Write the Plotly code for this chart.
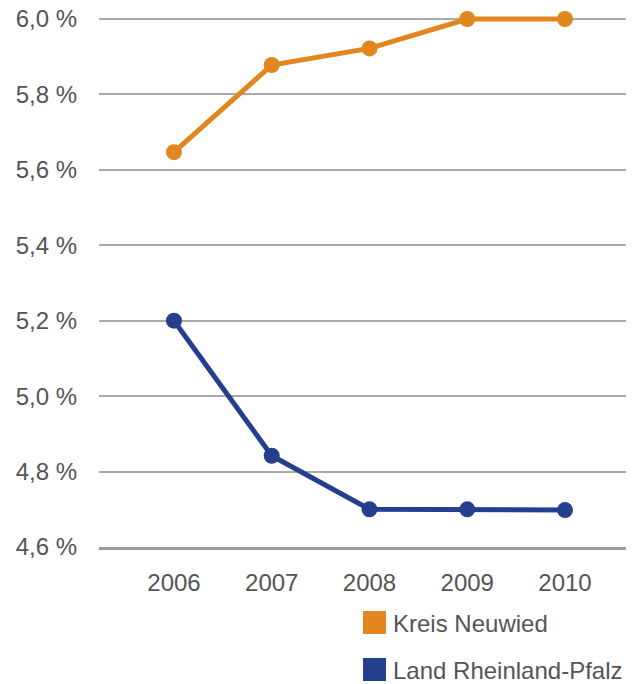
import plotly.graph_objects as go

years = [2006, 2007, 2008, 2009, 2010]
kreis_neuwied = [5.647, 5.878, 5.922, 6.0, 6.0]
land_rlp = [5.2, 4.842, 4.70, 4.70, 4.698]
series_names = ["Kreis Neuwied", "Land Rheinland-Pfalz"]
series_colors = ["#E2861F", "#243F8E"]
y_ticks = [4.6, 4.8, 5.0, 5.2, 5.4, 5.6, 5.8, 6.0]
y_tick_labels = [f"{v:.1f}".replace(".", ",") + " %" for v in y_ticks]

W, H = 632, 684
L, R, T, B = 99, 6, 10, 137
PX_PER_UNIT = 528 / 1.4
Y_MAX = 6.0 + 9 / PX_PER_UNIT
FONT = "Liberation Sans, Arial, Helvetica, sans-serif"
TXT = "#555555"
FS = 24

fig = go.Figure()
for name, vals, col in zip(series_names, [kreis_neuwied, land_rlp], series_colors):
    fig.add_trace(go.Scatter(
        x=years, y=vals, name=name, mode="lines+markers",
        line=dict(color=col, width=5),
        marker=dict(color=col, size=16),
        cliponaxis=False, showlegend=False,
    ))

# manual legend (square swatches + labels)
sw = 23
leg_x0 = 363
leg_y0 = [611, 658]
ph = H - T - B
pw = W - L - R
for i, (name, col) in enumerate(zip(series_names, series_colors)):
    y0 = leg_y0[i]
    fig.add_shape(type="rect", xref="paper", yref="paper",
                  x0=(leg_x0 - L) / pw, x1=(leg_x0 + sw - L) / pw,
                  y0=(H - B - (y0 + sw)) / ph, y1=(H - B - y0) / ph,
                  fillcolor=col, line=dict(width=0))
    fig.add_annotation(xref="paper", yref="paper",
                       x=(391 - L) / pw, y=(H - B - (y0 + sw / 2 + 1)) / ph,
                       xanchor="left", yanchor="middle", showarrow=False,
                       text=name, font=dict(family=FONT, size=FS, color=TXT))

fig.update_layout(
    width=W, height=H,
    margin=dict(l=L, r=R, t=T, b=B),
    paper_bgcolor="white", plot_bgcolor="white",
    font=dict(family=FONT, size=FS, color=TXT),
    showlegend=False,
)
fig.update_xaxes(
    range=[2005.233, 2010.624], tickvals=years, ticktext=[str(y) for y in years],
    showgrid=False, zeroline=False, showline=True, linecolor="#9a9a9a", linewidth=2.5,
    ticks="", ticklabelstandoff=12, tickfont=dict(size=FS, color=TXT),
)
fig.update_yaxes(
    range=[4.6, Y_MAX], tickvals=y_ticks, ticktext=y_tick_labels,
    showgrid=True, gridcolor="#aaaaaa", gridwidth=1.5, zeroline=False, showline=False,
    ticks="", ticklabelstandoff=21, tickfont=dict(size=FS, color=TXT),
)

fig.write_html("out.html", config={"displayModeBar": False},
               post_script="document.body.style.margin='0px';")
